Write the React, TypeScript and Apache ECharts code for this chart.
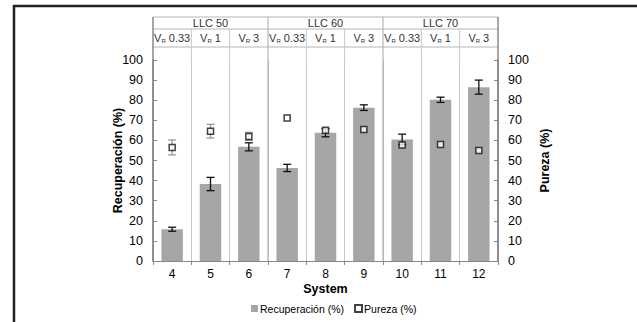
import React, { useEffect, useRef } from "react";
import * as echarts from "echarts";

const systems = ["4", "5", "6", "7", "8", "9", "10", "11", "12"];
const groups = ["LLC 50", "LLC 60", "LLC 70"];
const vrLabels = ["0.33", "1", "3", "0.33", "1", "3", "0.33", "1", "3"];
const recuperacion = [15.8, 38.3, 56.8, 46.3, 63.8, 76.3, 60.5, 80.2, 86.5];
const recuperacionErr = [1.0, 3.3, 2.0, 1.8, 2.0, 1.4, 2.6, 1.3, 3.5];
const pureza = [56.5, 64.6, 62.0, 71.2, 65.0, 65.4, 57.7, 58.0, 55.0];
const purezaErr = [3.7, 3.4, 2.0, 0, 0, 0, 0, 0, 0];
const yTicks = { min: 0, max: 100, interval: 10 };

const FONT = "Liberation Sans, Arial, sans-serif";

export default function App() {
  const ref = useRef<HTMLDivElement>(null);
  useEffect(() => {
    document.body.style.margin = "0";
    const chart = echarts.init(ref.current!, null, { renderer: "svg" });
    const errData = (vals: number[], errs: number[]) =>
      vals.map((v, i) => [i, v - errs[i], v + errs[i]]);
    const errRender = (color: string) => (params: any, api: any) => {
      const lo = api.value(1);
      const hi = api.value(2);
      if (hi - lo <= 0) return null;
      const p1 = api.coord([api.value(0), hi]);
      const p2 = api.coord([api.value(0), lo]);
      const w = 4;
      const st = { stroke: color, lineWidth: 1.3 };
      return {
        type: "group",
        children: [
          { type: "line", shape: { x1: p1[0], y1: p1[1], x2: p2[0], y2: p2[1] }, style: st },
          { type: "line", shape: { x1: p1[0] - w, y1: p1[1], x2: p1[0] + w, y2: p1[1] }, style: st },
          { type: "line", shape: { x1: p2[0] - w, y1: p2[1], x2: p2[0] + w, y2: p2[1] }, style: st },
        ],
      };
    };
    const yAxisBase = {
      type: "value",
      min: yTicks.min,
      max: yTicks.max,
      interval: yTicks.interval,
      nameLocation: "middle",
      nameMoveOverlap: false,
      nameTextStyle: { fontFamily: FONT, fontSize: 12.5, fontWeight: "bold", color: "#000" },
      axisLine: { show: true, lineStyle: { color: "#888", width: 1.5 } },
      axisTick: { show: true, inside: true, length: 4, lineStyle: { color: "#888" } },
      axisLabel: { fontFamily: FONT, fontSize: 12.5, color: "#000", margin: 10 },
      splitLine: { show: false },
    };
    chart.setOption({
      animation: false,
      backgroundColor: "#fff",
      grid: { left: 153, right: 139, top: 60, bottom: 61, containLabel: false },
      legend: {
        bottom: 3,
        left: 246,
        itemWidth: 7,
        itemHeight: 7,
        itemGap: 10,
        textStyle: { fontFamily: FONT, fontSize: 10.5, color: "#000", padding: [0, 0, 0, -3] },
        data: [
          { name: "Recuperación (%)", icon: "rect" },
          { name: "Pureza (%)", icon: "rect" },
        ],
      },
      xAxis: {
        type: "category",
        data: systems,
        name: "System",
        nameLocation: "middle",
        nameMoveOverlap: false,
        nameGap: 21,
        nameTextStyle: { fontFamily: FONT, fontSize: 12.5, fontWeight: "bold", color: "#000" },
        axisLine: { lineStyle: { color: "#888", width: 1.2 } },
        axisTick: { show: true, length: 4, lineStyle: { color: "#888" } },
        axisLabel: { fontFamily: FONT, fontSize: 12, color: "#000", margin: 7 },
        splitLine: { show: true, interval: 0, lineStyle: { color: "#c8c8c8", width: 1 } },
      },
      yAxis: [
        { ...yAxisBase, name: "Recuperación (%)", nameGap: 29, position: "left" },
        { ...yAxisBase, name: "Pureza (%)", nameGap: 40, nameRotate: 90, position: "right" },
      ],
      series: [
        {
          name: "Recuperación (%)",
          type: "bar",
          data: recuperacion,
          barWidth: "56%",
          itemStyle: { color: "#a6a6a6" },
        },
        {
          name: "recErr",
          type: "custom",
          data: errData(recuperacion, recuperacionErr),
          renderItem: errRender("#111"),
          encode: { x: 0, y: [1, 2] },
          z: 5,
        },
        {
          name: "purErr",
          type: "custom",
          yAxisIndex: 1,
          data: errData(pureza, purezaErr),
          renderItem: errRender("#999"),
          encode: { x: 0, y: [1, 2] },
          z: 5,
        },
        {
          name: "Pureza (%)",
          type: "scatter",
          yAxisIndex: 1,
          data: pureza,
          symbol: "rect",
          symbolSize: 6,
          itemStyle: { color: "#fff", borderColor: "#111", borderWidth: 1.5 },
          z: 10,
        },
      ],
    });

    const c0 = chart.convertToPixel({ xAxisIndex: 0 }, systems[0]) as number;
    const c1 = chart.convertToPixel({ xAxisIndex: 0 }, systems[1]) as number;
    const band = c1 - c0;
    const left = c0 - band / 2;
    const right = left + band * systems.length;
    const yTop = chart.convertToPixel({ yAxisIndex: 0 }, yTicks.max) as number;
    const yBottom = chart.convertToPixel({ yAxisIndex: 0 }, yTicks.min) as number;
    const t0 = 17;
    const t1 = 29;
    const t2 = 47;
    const g: any[] = [];
    const lineCol = "#b5b5b5";
    [t0, t1, t2].forEach((y) =>
      g.push({ type: "line", shape: { x1: left, y1: y, x2: right, y2: y }, style: { stroke: lineCol, lineWidth: 1 } })
    );
    for (let i = 0; i <= systems.length; i++) {
      const x = left + band * i;
      const isGroup = i % 3 === 0;
      const isEdge = i === 0 || i === systems.length;
      g.push({
        type: "line",
        shape: { x1: x, y1: isGroup ? t0 : t1, x2: x, y2: isEdge ? yBottom : yTop },
        style: { stroke: isEdge ? "#888" : isGroup ? "#a8a8a8" : "#c8c8c8", lineWidth: isEdge ? 1.5 : 1 },
      });
      if (isGroup && !isEdge) {
        g.push({
          type: "line",
          shape: { x1: x, y1: yTop, x2: x, y2: yBottom },
          style: { stroke: "#a8a8a8", lineWidth: 1 },
        });
      }
    }
    groups.forEach((name, k) => {
      g.push({
        type: "text",
        x: left + band * (k * 3 + 1.5),
        y: (t0 + t1) / 2,
        style: { text: name, fontFamily: FONT, fontSize: 11, fill: "#333", align: "center", verticalAlign: "middle" },
      });
    });
    vrLabels.forEach((v, i) => {
      g.push({
        type: "text",
        x: left + band * (i + 0.5),
        y: (t1 + t2) / 2,
        style: {
          text: `{a|V}{s|R}{a| ${v}}`,
          align: "center",
          verticalAlign: "middle",
          rich: {
            a: { fontFamily: FONT, fontSize: 11, fill: "#333", lineHeight: 14 },
            s: { fontFamily: FONT, fontSize: 6, fill: "#333", lineHeight: 14, padding: [6, 0, 0, 0] },
          },
        },
      });
    });
    g.push({
      type: "rect",
      shape: { x: 14, y: 6, width: 700, height: 400 },
      style: { fill: "none", stroke: "#222", lineWidth: 2.5 },
      silent: true,
    });
    chart.setOption({ graphic: g });
    return () => chart.dispose();
  }, []);
  return <div ref={ref} style={{ width: 637, height: 322 }} />;
}
